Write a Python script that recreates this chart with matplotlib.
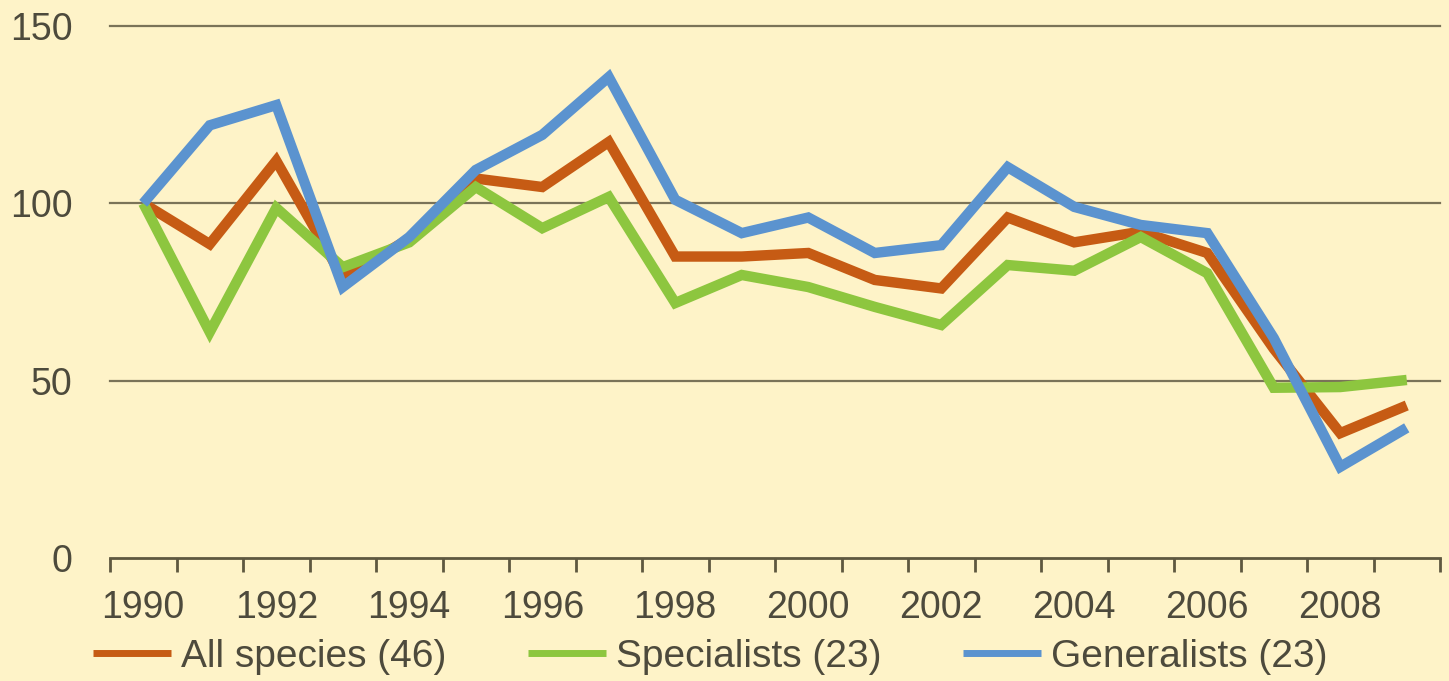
import numpy as np
import matplotlib.pyplot as plt

# Index values (1990 = 100)
years = list(range(1990, 2010))
all_species = [100, 88.5, 112, 79, 90, 107, 104.6, 117.3, 85, 85, 86, 78.4, 76, 96, 89,
               92, 86, 59, 35.2, 43]
specialists = [100, 63.7, 98.7, 82, 89, 104.6, 93, 101.8, 71.9, 79.8, 76.4, 70.8, 65.7,
               82.6, 81, 90.5, 80.3, 48, 48.2, 50.2]
generalists = [100, 122, 127.7, 76.4, 90.5, 109.4, 119.3, 135.6, 101, 91.6, 96, 86, 88.2,
               110.2, 99, 93.9, 91.6, 62, 25.7, 36.7]
labels = ['All species (46)', 'Specialists (23)', 'Generalists (23)']
colors = ['#C65B14', '#8DC63F', '#5B93CF']
yticks = [0, 50, 100, 150]

bg = '#FEF3C8'
txt = '#4D4A3C'
grid = '#7A7358'

plt.rcParams['font.family'] = ['Liberation Sans', 'DejaVu Sans']

def main():
    fig = plt.figure(figsize=(14.49, 6.81), dpi=100)
    fig.patch.set_facecolor(bg)
    ax = fig.add_axes([110/1449, 1 - 558/681, (1440 - 110)/1449, (558 - 26)/681])
    ax.set_facecolor(bg)

    x = np.arange(len(years))
    for series, lab, col in zip([all_species, specialists, generalists], labels, colors):
        ax.plot(x, series, color=col, lw=7.5, label=lab, solid_joinstyle='miter',
                solid_capstyle='butt', zorder=3)

    ax.set_xlim(-0.5, len(years) - 0.5)
    ax.set_ylim(0, 150)

    # Gridlines at 50, 100, 150
    for v in yticks[1:]:
        ax.axhline(v, color=grid, lw=1.6, zorder=1, clip_on=False)

    for s in ['top', 'right', 'left']:
        ax.spines[s].set_visible(False)
    ax.spines['bottom'].set_color('#5E5840')
    ax.spines['bottom'].set_linewidth(2)

    # Ticks at category boundaries, labels at every second year
    ax.set_xticks(np.arange(-0.5, len(years), 1.0))
    ax.set_xticklabels([])
    ax.tick_params(axis='x', which='major', length=10, width=2, color='#5E5840',
                   direction='out')
    ax.set_xticks(x[::2], minor=True)
    ax.set_xticklabels([str(y) for y in years[::2]], minor=True)
    ax.tick_params(axis='x', which='minor', length=0, pad=23, labelsize=27,
                   labelcolor=txt)

    ax.set_yticks(yticks)
    ax.set_yticklabels([str(v) for v in yticks])
    ax.tick_params(axis='y', length=0, pad=27, labelsize=27, labelcolor=txt)

    handles, labs = ax.get_legend_handles_labels()
    leg = fig.legend(handles, labs, loc='center left', ncol=3, frameon=False,
                     bbox_to_anchor=(93/1449, 1 - 657/681), borderpad=0,
                     borderaxespad=0, handlelength=2.0, handletextpad=0.26,
                     columnspacing=2.1, fontsize=28, labelcolor=txt)
    for h in leg.get_lines():
        h.set_linewidth(5)

    fig.savefig('out.png', dpi=100, facecolor=bg)

if __name__ == "__main__":
    main()
